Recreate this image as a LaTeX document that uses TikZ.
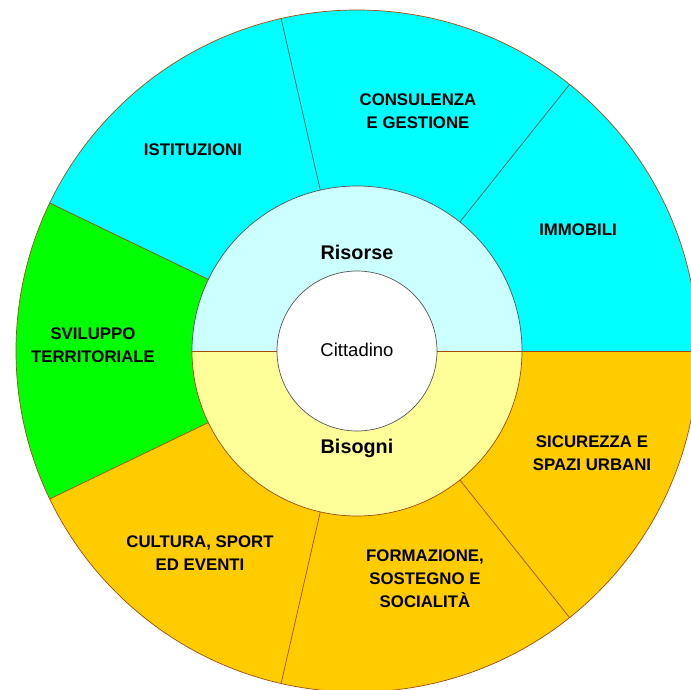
\documentclass[tikz,border=0pt]{standalone}
\usepackage{fontspec}
\setmainfont{Liberation Sans}
\usepackage{tikz}
\definecolor{ciano}{HTML}{00FFFF}
\definecolor{verde}{HTML}{00FF00}
\definecolor{arancio}{HTML}{FFCC00}
\definecolor{azzurrino}{HTML}{CCFFFF}
\definecolor{giallino}{HTML}{FFFF99}
\definecolor{bordoGrigio}{HTML}{555555}
\definecolor{bordoBruno}{HTML}{A04A10}

\begin{document}
\begin{tikzpicture}[x=1pt, y=1pt,
    bordo/.style={line width=0.7pt},
    voce/.style={font=\fontsize{16.8}{23}\selectfont\bfseries, align=center},
    area/.style={font=\fontsize{19.8}{22}\selectfont\bfseries},
    centro/.style={font=\fontsize{18.5}{20}\selectfont}]
    % Page frame
    \useasboundingbox (-357,-338) rectangle (334,351);
    \clip (-357,-338) rectangle (334,351);

    % Outer sectors
    \foreach \i/\col in {0/ciano, 1/ciano, 2/ciano, 3/verde, 4/arancio, 5/arancio, 6/arancio}{
        \pgfmathsetmacro{\a}{\i*360/7}
        \pgfmathsetmacro{\b}{(\i+1)*360/7}
        \fill[\col] (0,0) -- (\a:341) arc[start angle=\a, end angle=\b, radius=341] -- cycle;
    }
    % Dividers between sectors
    \foreach \i/\col in {0/bordoBruno, 1/bordoGrigio, 2/bordoGrigio, 3/bordoBruno, 4/bordoBruno, 5/bordoBruno, 6/bordoBruno}
        \draw[bordo, \col] (\i*360/7:160) -- (\i*360/7:341);
    \draw[bordo, bordoBruno] (0,0) circle[radius=341];

    % Middle ring: Risorse / Bisogni
    \fill[azzurrino] (165,0) arc[start angle=0, end angle=180, radius=165] -- cycle;
    \fill[giallino] (-165,0) arc[start angle=180, end angle=360, radius=165] -- cycle;
    \draw[bordo, bordoGrigio] (165,0) arc[start angle=0, end angle=180, radius=165];
    \draw[bordo, bordoBruno] (-165,0) arc[start angle=180, end angle=360, radius=165];
    \draw[bordo, bordoBruno] (-165,0) -- (165,0);

    % Inner circle
    \draw[bordo, bordoGrigio, fill=white] (0,0) circle[radius=80];

    % Labels
    \node[centro] (cittadino) at (0,1) {Cittadino};
    \node[area] (risorse) at (0,99) {Risorse};
    \node[area] (bisogni) at (0,-97) {Bisogni};

    \node[voce] (istituzioni) at (-164,201) {ISTITUZIONI};
    \node[voce] (consulenza) at (61,240) {CONSULENZA\\E GESTIONE};
    \node[voce] (immobili) at (221,121) {IMMOBILI};
    \node[voce] (sviluppo) at (-264,6) {SVILUPPO\\TERRITORIALE};
    \node[voce] (cultura) at (-157,-202) {CULTURA, SPORT\\ED EVENTI};
    \node[voce] (formazione) at (68,-228) {FORMAZIONE,\\SOSTEGNO E\\SOCIALITÀ};
    \node[voce] (sicurezza) at (235,-102) {SICUREZZA E\\SPAZI URBANI};
\end{tikzpicture}
\end{document}
